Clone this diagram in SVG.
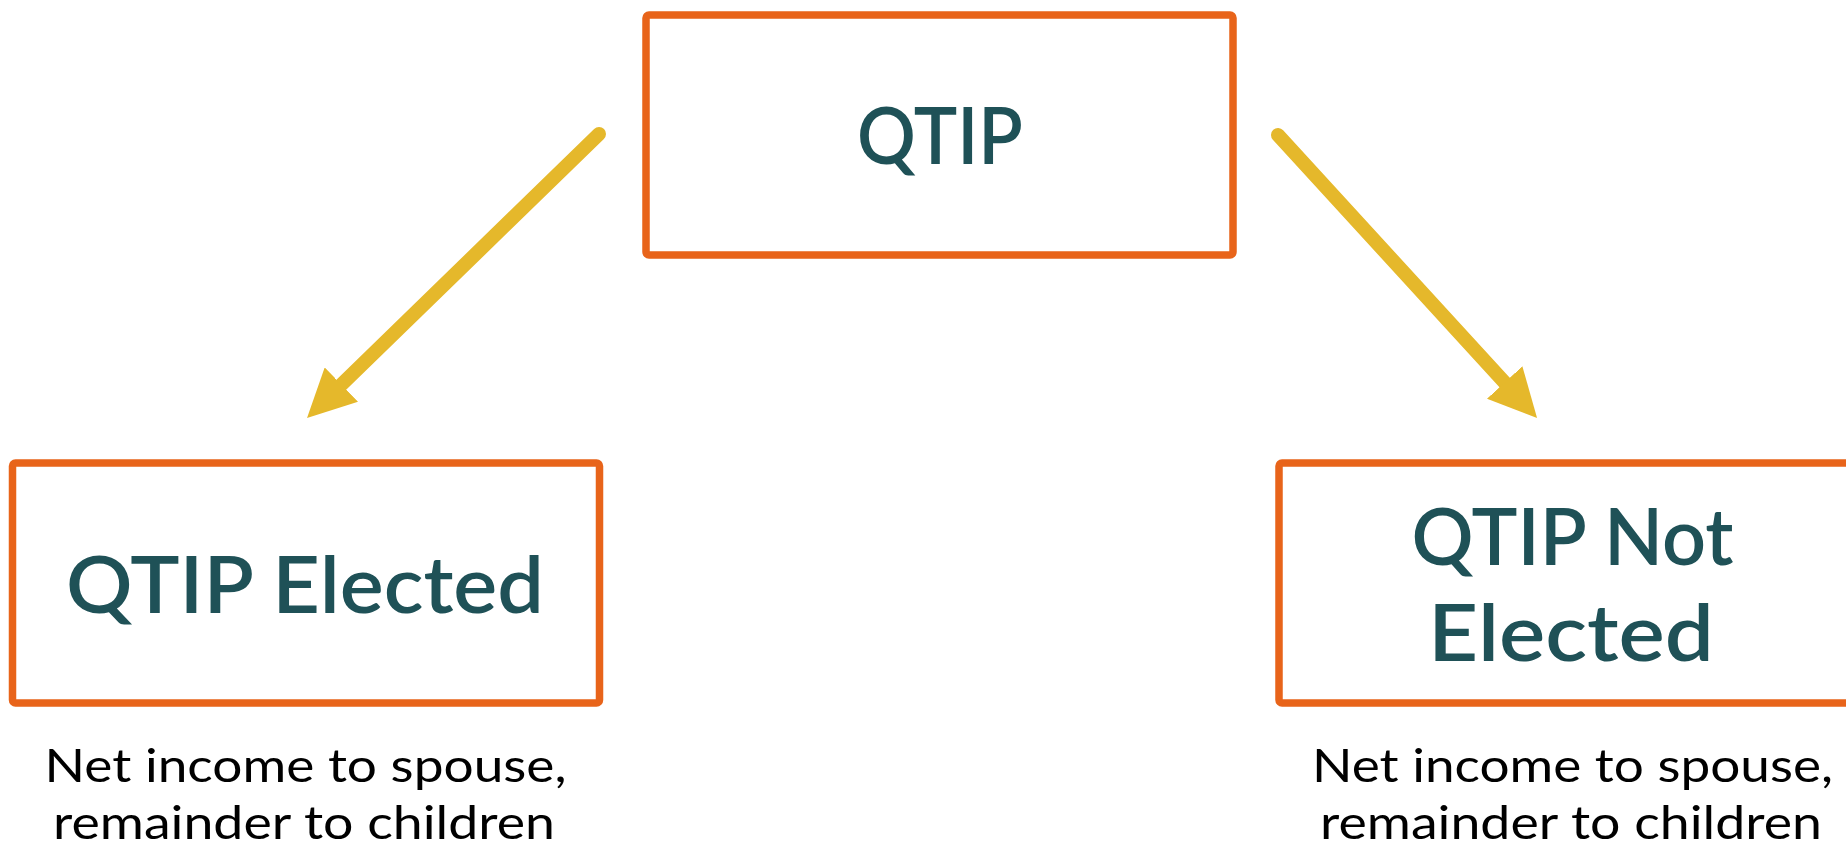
<svg xmlns="http://www.w3.org/2000/svg" width="1846" height="842" viewBox="0 0 1846 842">
  <style>
    .box { fill: #ffffff; stroke: #E8641A; stroke-width: 7.5; stroke-linejoin: round; }
    .title { font-family: Lato, "Liberation Sans", sans-serif; font-weight: 600; font-size: 79.5px; fill: #1F5157; text-anchor: middle; }
    .body { font-family: Lato, "Liberation Sans", sans-serif; font-weight: 400; font-size: 46px; fill: #000000; text-anchor: middle; }
    .conn { stroke: #E5B82B; stroke-width: 14; stroke-linecap: round; fill: none; }
  </style>
  <defs>
    <marker id="arrow" viewBox="0 0 48 48" refX="2" refY="24" markerWidth="48" markerHeight="48" markerUnits="userSpaceOnUse" orient="auto">
      <path d="M0,0 L48,24 L0,48 Z" fill="#E5B82B"/>
    </marker>
  </defs>
  <rect width="1846" height="842" fill="#ffffff"/>

  <g id="connectors">
    <line class="conn" x1="599" y1="134" x2="340" y2="386" marker-end="url(#arrow)"/>
    <line class="conn" x1="1278" y1="135" x2="1506" y2="384" marker-end="url(#arrow)"/>
  </g>

  <g id="node-qtip">
    <rect class="box" x="646" y="15" width="587" height="240" rx="3"/>
    <text class="title" x="940" y="164" textLength="166" lengthAdjust="spacingAndGlyphs">QTIP</text>
  </g>

  <g id="node-elected">
    <rect class="box" x="12.5" y="463" width="587" height="240" rx="3"/>
    <text class="title" x="305" y="613" textLength="478" lengthAdjust="spacingAndGlyphs">QTIP Elected</text>
    <text class="body" x="305.5" y="782" textLength="522" lengthAdjust="spacingAndGlyphs">Net income to spouse,</text>
    <text class="body" x="304" y="839" textLength="502" lengthAdjust="spacingAndGlyphs">remainder to children</text>
  </g>

  <g id="node-not-elected">
    <rect class="box" x="1279" y="463" width="587" height="240" rx="3"/>
    <text class="title" x="1572.5" y="565" textLength="322" lengthAdjust="spacingAndGlyphs">QTIP Not</text>
    <text class="title" x="1571" y="661" textLength="286" lengthAdjust="spacingAndGlyphs">Elected</text>
    <text class="body" x="1572.5" y="782" textLength="521" lengthAdjust="spacingAndGlyphs">Net income to spouse,</text>
    <text class="body" x="1571" y="839" textLength="502" lengthAdjust="spacingAndGlyphs">remainder to children</text>
  </g>
</svg>
